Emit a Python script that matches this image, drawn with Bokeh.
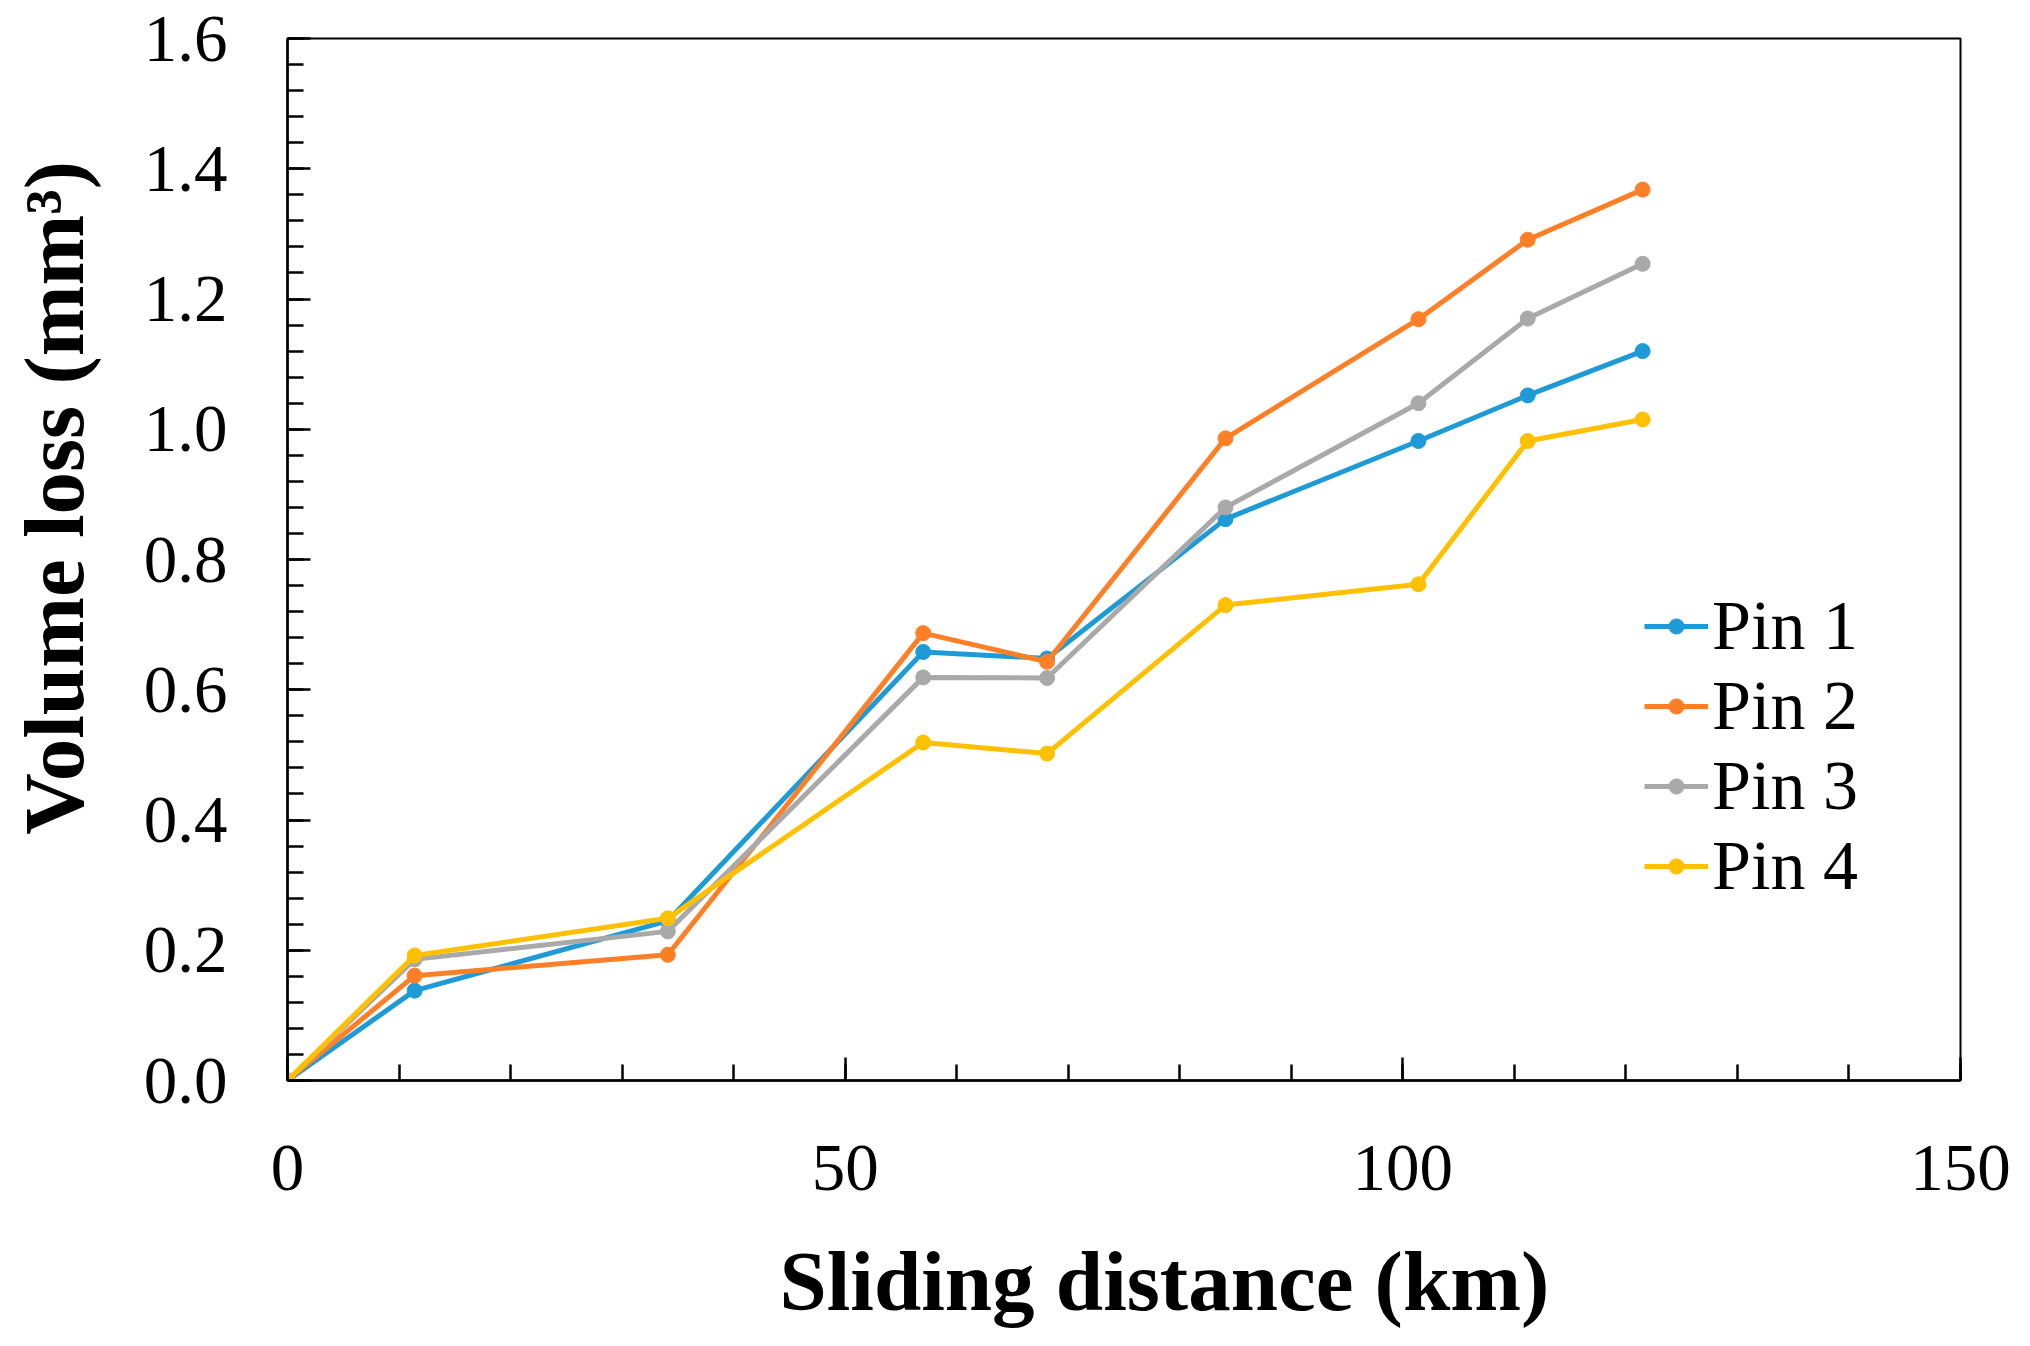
from bokeh.plotting import figure
from bokeh.models import (Range1d, SingleIntervalTicker, PrintfTickFormatter,
                          Legend, LegendItem)
from bokeh.embed import file_html
from bokeh.resources import INLINE

# ---- data ----
distance_km = [0, 11.4, 34.1, 57.0, 68.1, 84.1, 101.4, 111.2, 121.5]
pin1 = [0, 0.138, 0.245, 0.658, 0.648, 0.862, 0.982, 1.052, 1.120]
pin2 = [0, 0.161, 0.193, 0.687, 0.643, 0.986, 1.169, 1.291, 1.368]
pin3 = [0, 0.186, 0.229, 0.619, 0.618, 0.880, 1.040, 1.170, 1.254]
pin4 = [0, 0.192, 0.249, 0.519, 0.502, 0.730, 0.762, 0.982, 1.015]
series_names = ["Pin 1", "Pin 2", "Pin 3", "Pin 4"]
series_colors = ["#1E9BD7", "#FF7F27", "#A9A9A9", "#FFC000"]
x_title = "Sliding distance (km)"
y_title = "Volume loss (mm\u00b3)"

FONT = "Liberation Serif"
NB = "\u00a0"

W, H = 2014, 1330
p = figure(width=W, height=H, output_backend="svg", toolbar_location=None,
           x_range=Range1d(0, 150), y_range=Range1d(0, 1.6),
           min_border_left=287, min_border_right=54,
           min_border_top=38, min_border_bottom=246)
p.background_fill_color = "white"
p.border_fill_color = "white"
p.grid.visible = False
p.outline_line_color = "black"
p.outline_line_width = 2
p.outline_line_alpha = 1

# axes
p.xaxis.ticker = SingleIntervalTicker(interval=50, num_minor_ticks=5)
p.yaxis.ticker = SingleIntervalTicker(interval=0.2, num_minor_ticks=5)
p.yaxis.formatter = PrintfTickFormatter(format="%.1f")
p.xaxis.formatter = PrintfTickFormatter(format="%d")
for ax in (p.xaxis, p.yaxis):
    ax.axis_line_color = "black"
    ax.axis_line_width = 2.5
    ax.major_tick_line_color = "black"
    ax.minor_tick_line_color = "black"
    ax.major_tick_line_width = 2.5
    ax.minor_tick_line_width = 2.5
    ax.major_tick_in = 23
    ax.major_tick_out = 0
    ax.minor_tick_in = 16
    ax.minor_tick_out = 0
    ax.major_label_text_font = FONT
    ax.major_label_text_font_size = "67px"
    ax.major_label_text_color = "black"
    ax.axis_label_text_font = FONT
    ax.axis_label_text_font_size = "85px"
    ax.axis_label_text_font_style = "bold"
    ax.axis_label_text_color = "black"
p.yaxis.major_label_standoff = 60
p.xaxis.major_label_standoff = 65

# axis titles (leading non-breaking spaces shift the centred title as in the reference)
p.yaxis.axis_label = NB * 5 + "\u2009" + y_title
p.xaxis.axis_label = NB * 3 + "\u2009" + x_title
p.yaxis.axis_label_standoff = 40
p.xaxis.axis_label_standoff = 41

# series
items = []
for name, col, vals in zip(series_names, series_colors, [pin1, pin2, pin3, pin4]):
    ln = p.line(distance_km, vals, line_color=col, line_width=5)
    sc = p.scatter(distance_km, vals, marker="circle", size=15,
                   fill_color=col, line_color=col)
    items.append(LegendItem(label=name, renderers=[ln, sc]))

legend = Legend(items=items, location=(1357, 174), orientation="vertical",
                label_text_font=FONT, label_text_font_size="70px",
                label_text_color="black", glyph_width=64, glyph_height=38,
                label_height=80, label_standoff=4, spacing=0, padding=0,
                margin=0, border_line_color=None, background_fill_alpha=0)
p.add_layout(legend, "center")

open("out.html", "w").write(file_html(p, INLINE))
